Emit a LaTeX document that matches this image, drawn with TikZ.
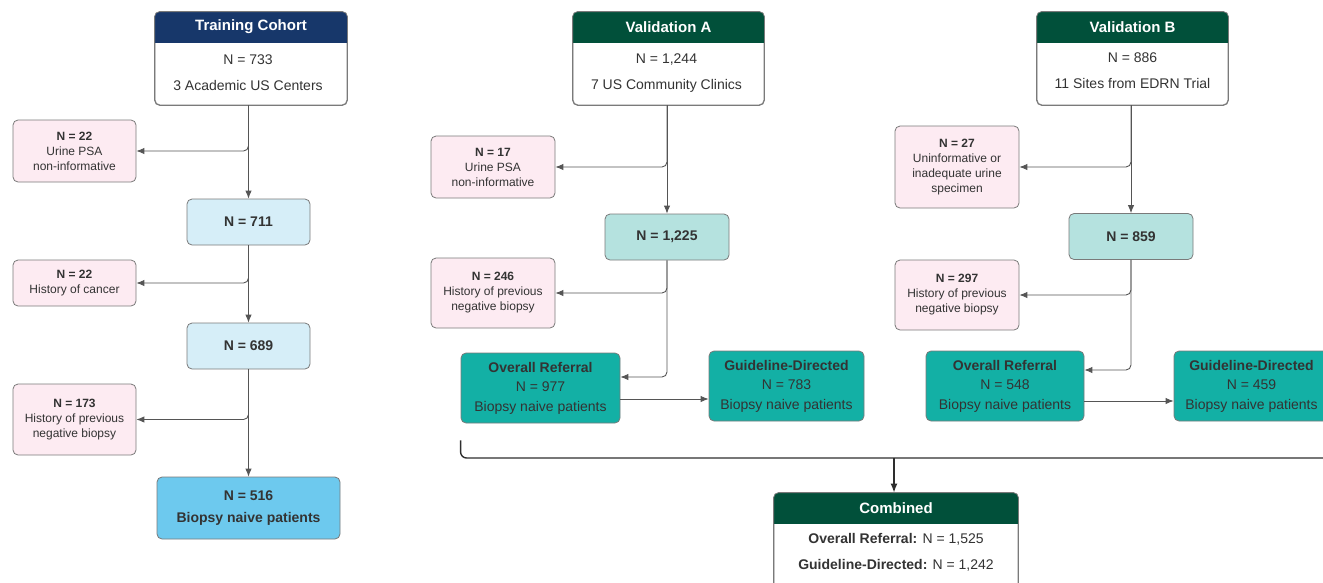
\documentclass[tikz,border=0pt]{standalone}
\usepackage{fontspec}
\setmainfont{Liberation Sans}
\usetikzlibrary{arrows.meta,calc}
\definecolor{navy}{HTML}{17376A}
\definecolor{dkgreen}{HTML}{01503A}
\definecolor{lblue}{HTML}{D6EEF8}
\definecolor{pinkf}{HTML}{FDEBF2}
\definecolor{tealL}{HTML}{B5E2DF}
\definecolor{tealD}{HTML}{13B0A5}
\definecolor{blueF}{HTML}{6DC9EE}
\definecolor{bord}{HTML}{7A7A7A}
\definecolor{lin}{HTML}{555555}
\definecolor{txt}{HTML}{333333}
\tikzset{
  base/.style={draw=bord, line width=0.8pt, rounded corners=5pt, align=center, inner sep=0pt, text=txt},
  pinkbox/.style={base, fill=pinkf, minimum width=123pt, font=\fontsize{12}{15}\selectfont},
  midbox/.style={base, minimum width=123pt, minimum height=46pt, font=\fontsize{14}{17}\selectfont\bfseries},
  tealbox/.style={base, fill=tealD, minimum height=70pt, font=\fontsize{14}{19.5}\selectfont},
  headbox/.style={base, fill=white, minimum height=93pt},
  hdr/.style={text=white, font=\fontsize{15}{18}\selectfont\bfseries},
  body/.style={text=txt, font=\fontsize{14}{17}\selectfont},
  arr/.style={draw=lin, line width=0.9pt, -{Latex[length=8pt,width=6.5pt]}},
  plain/.style={draw=lin, line width=0.9pt},
  heavy/.style={draw=txt!90!black, line width=1.4pt},
}
\newcommand{\headfill}[2]{%
  \fill[#2, rounded corners=5pt] (#1.north west) rectangle ($(#1.north east)+(0,-31)$);
  \fill[#2] ($(#1.north west)+(0,-15)$) rectangle ($(#1.north east)+(0,-31)$);
  \draw[bord, line width=0.8pt, rounded corners=5pt] (#1.north west) rectangle (#1.south east);
}
\begin{document}
\begin{tikzpicture}[x=1pt,y=1pt]
\useasboundingbox (0,0) rectangle (1323,-582);
\clip (0,0) rectangle (1323,-582);

% ---------------- Training cohort ----------------
\node[headbox, minimum width=192pt] (tc) at (251,-58.5) {};
\headfill{tc}{navy}
\node[hdr] at ($(tc.north)+(0,-15.5)$) {Training Cohort};
\node[body] at ($(tc.north)+(-3,-48)$) {N = 733};
\node[body] at ($(tc.north)+(-3,-74)$) {3 Academic US Centers};

\node[pinkbox, minimum height=62pt] (p1) at (74.5,-151) {\textbf{N = 22}\\Urine PSA\\non-informative};
\node[midbox, fill=lblue] (n711) at (248.5,-222) {N = 711};
\node[pinkbox, minimum height=46pt] (p2) at (74.5,-283) {\textbf{N = 22}\\History of cancer};
\node[midbox, fill=lblue] (n689) at (248.5,-346) {N = 689};
\node[pinkbox, minimum height=71pt] (p3) at (74.5,-419.5) {\textbf{N = 173}\\History of previous\\negative biopsy};
\node[base, fill=blueF, minimum width=183pt, minimum height=62pt, font=\fontsize{14}{22}\selectfont\bfseries] (n516) at (248.5,-508) {N = 516\\Biopsy naive patients};

\draw[arr] (n711.north |- tc.south) -- (n711.north);
\draw[arr, rounded corners=5pt] (n711.north |- tc.south) |- (p1.east);
\draw[arr] (n711.south) -- (n689.north);
\draw[arr, rounded corners=5pt] (n711.south) |- (p2.east);
\draw[arr] (n689.south) -- (n516.north);
\draw[arr, rounded corners=5pt] (n689.south) |- (p3.east);

% ---------------- Validation A ----------------
\node[headbox, minimum width=191pt] (va) at (668.5,-58.5) {};
\headfill{va}{dkgreen}
\node[hdr] at ($(va.north)+(0,-15.5)$) {Validation A};
\node[body] at ($(va.north)+(-2,-48)$) {N = 1,244};
\node[body] at ($(va.north)+(-2,-74)$) {7 US Community Clinics};

\node[pinkbox, minimum width=124pt, minimum height=62pt] (pa1) at (493,-167) {\textbf{N = 17}\\Urine PSA\\non-informative};
\node[midbox, minimum width=124pt, fill=tealL] (n1225) at (667,-237) {N = 1,225};
\node[pinkbox, minimum width=124pt, minimum height=70pt] (pa2) at (493,-293) {\textbf{N = 246}\\History of previous\\negative biopsy};
\node[tealbox, minimum width=159pt] (ora) at (540.5,-388) {\textbf{Overall Referral}\\N = 977\\Biopsy naive patients};
\node[tealbox, minimum width=155pt] (gda) at (786.5,-386) {\textbf{Guideline-Directed}\\N = 783\\Biopsy naive patients};

\draw[arr] (n1225.north |- va.south) -- (n1225.north);
\draw[arr, rounded corners=5pt] (n1225.north |- va.south) |- (pa1.east);
\draw[arr, rounded corners=5pt] (n1225.south) |- ([yshift=11pt]ora.east);
\draw[arr, rounded corners=5pt] (n1225.south) |- (pa2.east);
\draw[arr] ([yshift=-11pt]ora.east) -- ([yshift=-11pt]ora.east -| gda.west);

% ---------------- Validation B ----------------
\node[headbox, minimum width=191pt] (vb) at (1132.5,-58.5) {};
\headfill{vb}{dkgreen}
\node[hdr] at ($(vb.north)+(0,-15.5)$) {Validation B};
\node[body] at ($(vb.north)+(0,-46)$) {N = 886};
\node[body] at ($(vb.north)+(0,-72)$) {11 Sites from EDRN Trial};

\node[pinkbox, minimum width=124pt, minimum height=82pt] (pb1) at (957,-167) {\textbf{N = 27}\\Uninformative or\\inadequate urine\\specimen};
\node[midbox, minimum width=124pt, fill=tealL] (n859) at (1131,-236.5) {N = 859};
\node[pinkbox, minimum width=124pt, minimum height=70pt] (pb2) at (957,-295) {\textbf{N = 297}\\History of previous\\negative biopsy};
\node[tealbox, minimum width=158pt] (orb) at (1005,-386) {\textbf{Overall Referral}\\N = 548\\Biopsy naive patients};
\node[tealbox, minimum width=155pt] (gdb) at (1251.5,-386) {\textbf{Guideline-Directed}\\N = 459\\Biopsy naive patients};

\draw[arr] (n859.north |- vb.south) -- (n859.north);
\draw[arr, rounded corners=5pt] (n859.north |- vb.south) |- (pb1.east);
\draw[arr, rounded corners=5pt] (n859.south) |- ([yshift=16pt]orb.east);
\draw[arr, rounded corners=5pt] (n859.south) |- (pb2.east);
\draw[arr] ([yshift=-15pt]orb.east) -- ([yshift=-15pt]orb.east -| gdb.west);

% ---------------- Combined ----------------
\node[headbox, minimum width=244pt, minimum height=97pt] (comb) at (896,-541.5) {};
\headfill{comb}{dkgreen}
\node[hdr] at ($(comb.north)+(0,-15.5)$) {Combined};
\node[body] at ($(comb.north)+(0,-47)$) {\textbf{Overall Referral:} N = 1,525};
\node[body] at ($(comb.north)+(0,-73)$) {\textbf{Guideline-Directed:} N = 1,242};

\coordinate (bl) at ($(ora.south west)+(0,-17)$);
\coordinate (br) at ($(gdb.south east)+(0,-17)$);
\coordinate (bm) at (894,-458);
\draw[heavy, rounded corners=6pt] (bl) -- (bl |- bm) -- (br |- bm) -- (br);
\draw[heavy, -{Latex[length=9pt,width=7pt]}] (bm) -- (bm |- comb.north);
\end{tikzpicture}
\end{document}
